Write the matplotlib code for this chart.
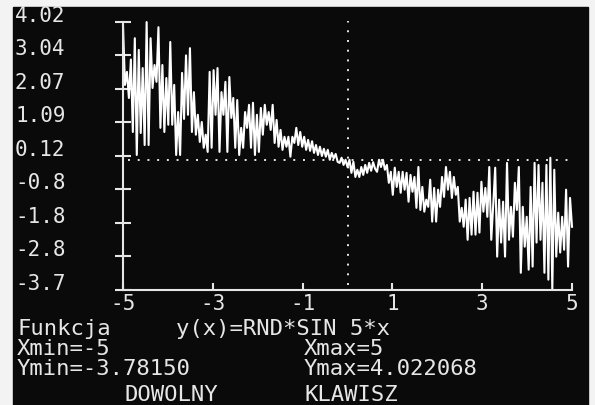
import numpy as np
import matplotlib.pyplot as plt
from matplotlib.patches import Rectangle
from matplotlib.transforms import blended_transform_factory

y_cz1 = [3.93, 2.19, 2.57, 1.81, 2.93, 0.82, 3.55, 0.15, 3.21, 0.79, 2.68, 0.44,
         4.02, 0.44, 3.55, 2.10, 2.77, 2.28, 3.87, 0.94, 2.77, 0.82, 2.39, 1.03,
         3.44, 1.03, 2.19, 0.15, 1.40, 0.15, 2.54, 1.20, 3.05, 1.32, 3.26]
y_cz2 = [0.82, 1.98, 0.74, 1.32, 0.53, 1.11, 0.36, 0.74, 0.24, 2.57, 0.36, 2.62,
         1.32, 2.68, 0.24, 1.98, 1.32, 2.28, 0.24, 2.42, 1.23, 1.81, 0.36, 1.75,
         0.15, 0.94, 0.36, 1.40, 0.94, 1.61, 0.36, 1.67, 0.15, 1.32, 0.24, 1.52,
         0.74, 1.61, 1.03, 1.40]
y_cz3 = [0.88, 1.61, 0.50, 1.17, 0.39, 0.88, 0.30, 0.68, 0.39, 0.68, 0.10, 0.68,
         0.50, 0.94, 0.44, 0.82, 0.39, 0.68, 0.30, 0.59, 0.27, 0.55, 0.21, 0.44,
         0.15, 0.39, 0.12, 0.33, 0.10, 0.30, 0.01, 0.21, 0.05, 0.18, -0.05]
y_cz4 = [-0.08, 0.07, -0.14, 0.01, -0.20, 0.01, -0.37, -0.05, -0.49, -0.28, -0.49, -0.20,
         -0.43, -0.14, -0.37, -0.08, -0.31, -0.06, -0.25, -0.34, 0.01, -0.20, 0.01, -0.28,
         -0.14, -0.66, -0.34, -1.01, -0.22, -0.78, -0.34, -0.95, -0.34, -0.86, -0.37, -1.21,
         -0.43, -0.92, -0.49, -1.39]
y_cz5 = [-0.20, -1.45, -0.78, -1.50, -1.15, -1.36, -0.57, -1.79, -0.81, -1.79, -0.86, -1.36,
         -0.49, -1.07, -0.20, -0.86, -0.34, -1.10, -0.49, -1.01, -0.78, -1.79, -1.39, -1.94,
         -1.15, -2.32, -1.10, -2.17, -0.92, -2.17, -0.95, -2.11, -0.63, -1.50, -0.81, -1.65,
         -0.20, -2.32, -1.30]
y_cz6 = [-0.22, -2.81, -1.15, -2.40, -1.21, -2.81, -0.08, -2.32, -1.36, -2.23, -0.66, -1.45,
         -0.20, -3.28, -1.36, -2.52, -1.65, -3.19, -0.78, -3.10, -0.08, -2.40, -0.14, -2.32,
         -0.66, -3.28, -0.14, -3.48, 0.07, -3.78, -0.28, -2.81, -1.53, -2.69, -1.65, -2.61,
         -0.86, -3.10, -1.10, -1.94]

xmin, xmax = -5, 5
ymin, ymax = -3.78150, 4.022068

y_ticks = [4.022, 3.047, 2.072, 1.097, 0.122, -0.853, -1.828, -2.803, -3.778]
y_tick_labels = ["4.02", "3.04", "2.07", "1.09", "0.12", "-0.8", "-1.8", "-2.8", "-3.7"]
x_ticks = [-5, -3, -1, 1, 3, 5]
x_tick_labels = ["-5", "-3", "-1", "1", "3", "5"]

y = np.array(y_cz1 + y_cz2 + y_cz3 + y_cz4 + y_cz5 + y_cz6)
x = np.linspace(xmin, xmax, len(y))

W, H = 595, 405
fg = "#e6e6e6"
plt.rcParams["font.family"] = ["DejaVu Sans Mono"]

fig = plt.figure(figsize=(W / 100, H / 100), dpi=100, facecolor="#f3f3f3")
# ekran
fig.patches.append(Rectangle((13 / W, 0), (588 - 13) / W, (H - 7) / H,
                             transform=fig.transFigure, color="#0a0a0a", zorder=-5))

ax = fig.add_axes([123 / W, 1 - 290 / H, (572 - 123) / W, (290 - 22) / H])
ax.patch.set_visible(False)
ax.set_xlim(xmin, xmax)
ax.set_ylim(ymin, ymax)
for s in ["top", "right"]:
    ax.spines[s].set_visible(False)
for s in ["left", "bottom"]:
    ax.spines[s].set_color(fg)
    ax.spines[s].set_linewidth(1.5)

ax.set_yticks(y_ticks)
ax.tick_params(axis="y", direction="inout", length=12, width=1.5, color=fg, labelleft=False)
ax.set_xticks(x_ticks)
ax.set_xticklabels(x_tick_labels)
ax.tick_params(axis="x", direction="in", length=5, width=1.5, color=fg,
               labelcolor=fg, labelsize=15, pad=3)

# etykiety osi Y przy lewej krawędzi ekranu
tr = blended_transform_factory(fig.transFigure, ax.transData)
for v, lab in zip(y_ticks, y_tick_labels):
    ax.text(15 / W, v, lab, transform=tr, ha="left", va="baseline",
            color=fg, fontsize=15, clip_on=False)

# osie przez zero (kropkowane)
ax.axhline(0, xmin=0.011, xmax=1.007, color=fg, lw=1.4, ls=(0, (1, 4)), clip_on=False)
ax.axvline(0, ymin=0.019, ymax=1.005, color=fg, lw=1.4, ls=(0, (1, 4)), clip_on=False)

ax.plot(x, y, color="white", lw=1.5, clip_on=False)

# opis pod wykresem
fs = 16
fig.text(17 / W, 1 - 335 / H, "Funkcja", color=fg, fontsize=fs, ha="left", va="baseline")
fig.text(176 / W, 1 - 335 / H, "y(x)=RND*SIN 5*x", color=fg, fontsize=fs, ha="left", va="baseline")
fig.text(17 / W, 1 - 355 / H, "Xmin=-5", color=fg, fontsize=fs, ha="left", va="baseline")
fig.text(304 / W, 1 - 355 / H, "Xmax=5", color=fg, fontsize=fs, ha="left", va="baseline")
fig.text(17 / W, 1 - 375 / H, "Ymin=-3.78150", color=fg, fontsize=fs, ha="left", va="baseline")
fig.text(304 / W, 1 - 375 / H, "Ymax=4.022068", color=fg, fontsize=fs, ha="left", va="baseline")
fig.text(125 / W, 0.0, "DOWOLNY", color=fg, fontsize=fs, ha="left", va="bottom")
fig.text(304 / W, 0.0, "KLAWISZ", color=fg, fontsize=fs, ha="left", va="bottom")

fig.savefig("out.png", dpi=100, facecolor=fig.get_facecolor())
